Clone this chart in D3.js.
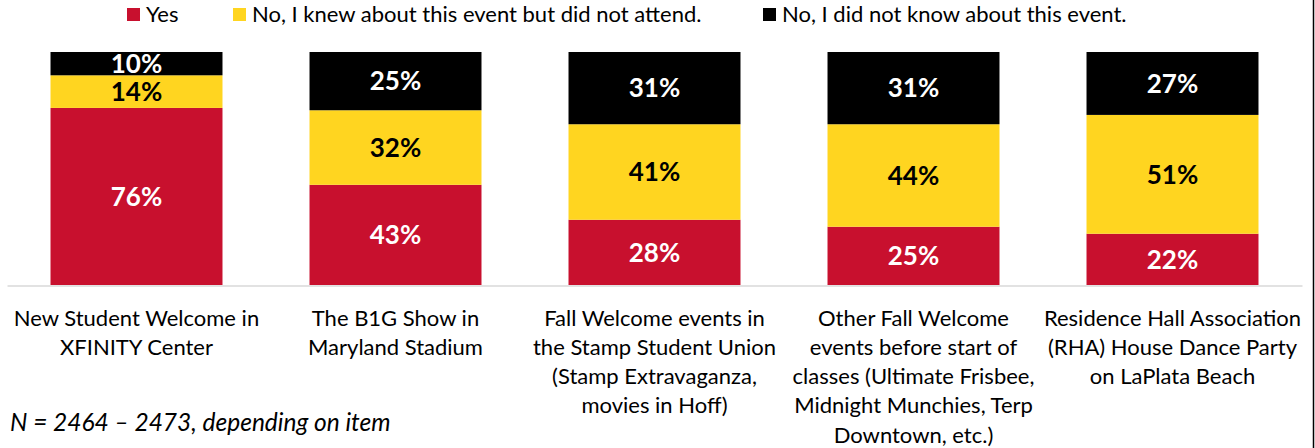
<!DOCTYPE html>
<html lang="en">
<head>
  <meta charset="UTF-8">
  <title>Fall Welcome events</title>
  <script src="https://d3js.org/d3.v7.min.js"></script>
  <style>
    body { margin: 0; background: #fff; }
    text { font-family: Lato, "Open Sans", sans-serif; }
  </style>
</head>
<body>
  <div id="root"></div>
  <script>
    // data
    const categories = ['New Student Welcome in XFINITY Center', 'The B1G Show in Maryland Stadium',
      'Fall Welcome events in the Stamp Student Union (Stamp Extravaganza, movies in Hoff)',
      'Other Fall Welcome events before start of classes (Ultimate Frisbee, Midnight Munchies, Terp Downtown, etc.)',
      'Residence Hall Association (RHA) House Dance Party on LaPlata Beach']
    const tickLines = [
      ['New Student Welcome in', 'XFINITY Center'],
      ['The B1G Show in', 'Maryland Stadium'],
      ['Fall Welcome events in', 'the Stamp Student Union', '(Stamp Extravaganza,', 'movies in Hoff)'],
      ['Other Fall Welcome', 'events before start of', 'classes (Ultimate Frisbee,', 'Midnight Munchies, Terp', 'Downtown, etc.)'],
      ['Residence Hall Association', '(RHA) House Dance Party', 'on LaPlata Beach']
    ]
    const seriesNames = ['Yes', 'No, I knew about this event but did not attend.', 'No, I did not know about this event.']
    const yes = [76, 43, 28, 25, 22]
    const knew = [14, 32, 41, 44, 51]
    const didNotKnow = [10, 25, 31, 31, 27]

    const colors = ['#C8102E', '#FFD520', '#000000']
    const labelColors = ['#fff', '#000', '#fff']

    const width = 1315, height = 448
    const svg = d3.select('#root')
      .append('svg')
      .attr('width', width)
      .attr('height', height)

    const table = categories.map((c, i) => ({ cat: c, yes: yes[i], knew: knew[i], notknow: didNotKnow[i] }))
    const keys = ['yes', 'knew', 'notknow']
    const stacked = d3.stack().keys(keys)(table)

    const x = d3.scaleBand()
      .domain(categories)
      .range([7, 1302])
      .paddingInner(0.336)
      .paddingOuter(0.168)

    const y = d3.scaleLinear()
      .domain([0, 100])
      .range([285, 52])

    // bars
    const layer = svg.append('g')
      .selectAll('g')
      .data(stacked)
      .join('g')
      .attr('fill', (d, i) => colors[i])

    layer.selectAll('rect')
      .data(d => d)
      .join('rect')
      .attr('x', d => x(d.data.cat))
      .attr('width', x.bandwidth())
      .attr('y', d => y(d[1]))
      .attr('height', d => y(d[0]) - y(d[1]))

    // value labels
    stacked.forEach((s, i) => {
      svg.append('g')
        .selectAll('text')
        .data(s)
        .join('text')
        .attr('x', d => x(d.data.cat) + x.bandwidth() / 2)
        .attr('y', d => (y(d[0]) + y(d[1])) / 2)
        .attr('dy', '0.36em')
        .attr('text-anchor', 'middle')
        .attr('font-weight', 'bold')
        .attr('font-size', 26)
        .attr('fill', labelColors[i])
        .text(d => (d[1] - d[0]) + '%')
    })

    // x axis
    const axis = svg.append('g')
      .attr('transform', 'translate(0,285.5)')
      .call(d3.axisBottom(x).tickSize(0).tickSizeOuter(0).tickFormat(''))
    axis.select('.domain').attr('stroke', '#d9d9d9').attr('stroke-width', 1.5)

    axis.selectAll('.tick text')
      .attr('y', 0)
      .attr('dy', 0)
      .attr('font-family', 'Lato, sans-serif')
      .attr('font-size', 22)
      .attr('fill', '#000')
      .each(function (d, i) {
        d3.select(this).selectAll('tspan')
          .data(tickLines[i])
          .join('tspan')
          .attr('x', 0)
          .attr('y', (t, j) => 40 + j * 29.3)
          .text(t => t)
      })

    // legend
    const legendX = [127, 233, 763]
    const legend = svg.append('g')
      .selectAll('g')
      .data(seriesNames)
      .join('g')
      .attr('transform', (d, i) => `translate(${legendX[i]},0)`)
    legend.append('rect')
      .attr('y', 8)
      .attr('width', 13)
      .attr('height', 13)
      .attr('fill', (d, i) => colors[i])
    legend.append('text')
      .attr('x', 19)
      .attr('y', 22)
      .attr('font-size', 22)
      .attr('fill', '#000')
      .text(d => d)

    // note
    svg.append('text')
      .attr('x', 10)
      .attr('y', 431)
      .attr('font-size', 24.5)
      .attr('font-style', 'italic')
      .text('N = 2464 – 2473, depending on item')

    // frame edge on the right
    svg.append('line')
      .attr('x1', 1313.5).attr('x2', 1313.5)
      .attr('y1', 0).attr('y2', height)
      .attr('stroke', '#000')
      .attr('stroke-width', 1.5)
  </script>
</body>
</html>
